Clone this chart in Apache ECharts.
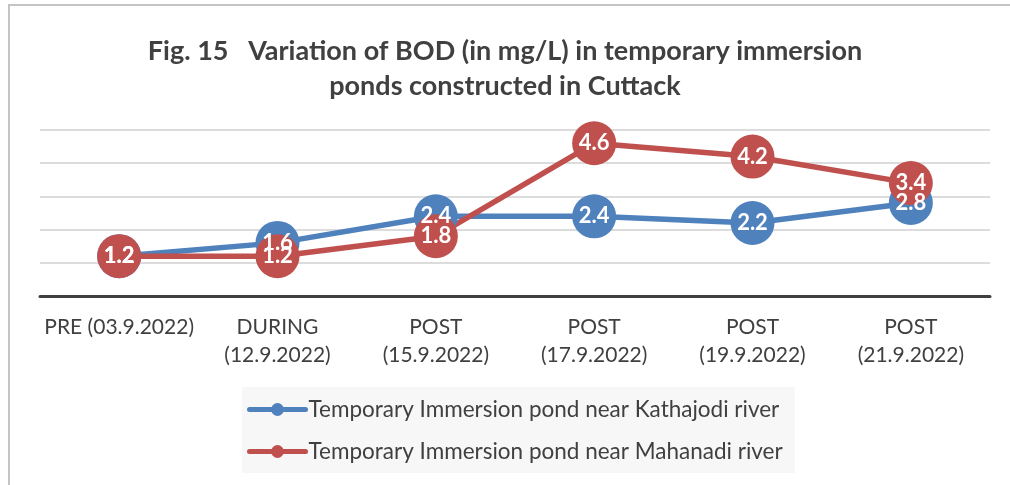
<!DOCTYPE html>
<html>
<head>
<meta charset="utf-8">
<script src="https://cdn.jsdelivr.net/npm/echarts@6/dist/echarts.min.js"></script>
<style>
  html, body { margin: 0; padding: 0; background: #fff; }
  #chart { width: 1010px; height: 485px; position: relative; }
  .frame {
    position: absolute; left: 8px; top: 4px; width: 1100px; height: 600px;
    border-top: 2px solid #c4c4c4; border-left: 2px solid #c4c4c4;
    pointer-events: none;
  }
</style>
</head>
<body>
<div id="chart"></div>
<div class="frame"></div>
<script>
const categories = [
  "PRE (03.9.2022)",
  "DURING\n(12.9.2022)",
  "POST\n(15.9.2022)",
  "POST\n(17.9.2022)",
  "POST\n(19.9.2022)",
  "POST\n(21.9.2022)"
];
const kathajodi = [1.2, 1.6, 2.4, 2.4, 2.2, 2.8];
const mahanadi = [1.2, 1.2, 1.8, 4.6, 4.2, 3.4];
const seriesNames = [
  "Temporary Immersion pond near Kathajodi river",
  "Temporary Immersion pond near Mahanadi river"
];

const font = "Lato, 'Open Sans', sans-serif";
const chart = echarts.init(document.getElementById("chart"));

function lineSeries(name, data, color) {
  return {
    name,
    type: "line",
    data,
    symbol: "circle",
    symbolSize: 44,
    lineStyle: { width: 5.5, color },
    itemStyle: { color },
    label: {
      show: true,
      position: "inside",
      color: "#fff",
      fontFamily: font,
      fontWeight: "bold",
      fontSize: 22
    }
  };
}

chart.setOption({
  animation: false,
  color: ["#4f81bd", "#c0504d"],
  textStyle: { fontFamily: font },
  title: {
    text: "Fig. 15   Variation of BOD (in mg/L) in temporary immersion\nponds constructed in Cuttack",
    left: "center",
    top: 29,
    textStyle: {
      fontFamily: font,
      fontWeight: "bold",
      fontSize: 27,
      lineHeight: 35,
      color: "#404040"
    }
  },
  grid: { left: 40, right: 20, top: 130, bottom: 189 },
  legend: {
    orient: "vertical",
    left: 242,
    top: 387,
    padding: [11, 12, 10, 5],
    itemGap: 19,
    itemWidth: 56,
    itemHeight: 16,
    backgroundColor: "#f7f7f7",
    data: seriesNames,
    lineStyle: { width: 5, cap: "round" },
    textStyle: { fontFamily: font, fontSize: 22.5, color: "#404040", padding: [0, 0, 0, -2] }
  },
  xAxis: {
    type: "category",
    data: categories,
    axisTick: { show: false },
    axisLine: { lineStyle: { color: "#404040", width: 3 } },
    axisLabel: {
      color: "#404040",
      fontFamily: font,
      fontSize: 21,
      lineHeight: 28,
      margin: 17,
      interval: 0
    }
  },
  yAxis: {
    type: "value",
    min: 0,
    max: 5,
    interval: 1,
    axisLabel: { show: false },
    axisLine: { show: false },
    axisTick: { show: false },
    splitLine: { lineStyle: { color: "#d0d0d0", width: 1.5 } }
  },
  series: [
    lineSeries(seriesNames[0], kathajodi, "#4f81bd"),
    lineSeries(seriesNames[1], mahanadi, "#c0504d")
  ]
});
</script>
</body>
</html>
